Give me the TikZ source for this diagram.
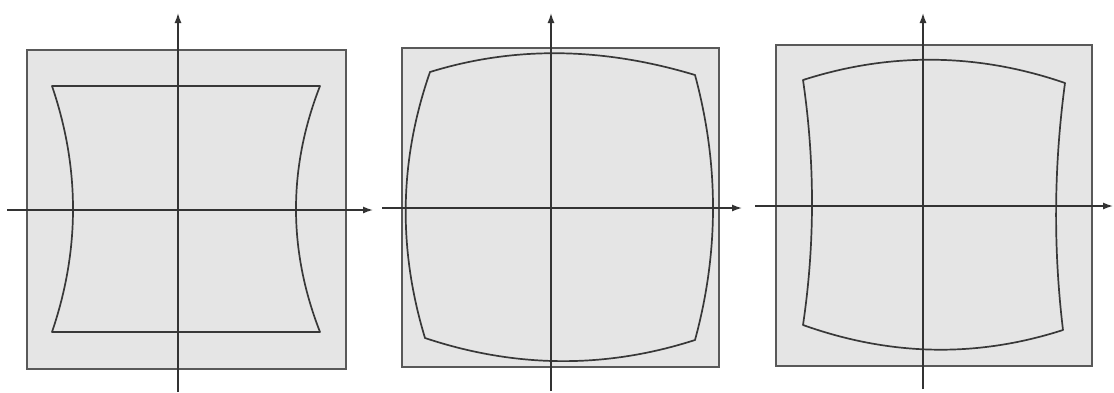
\documentclass[tikz,border=0pt]{standalone}
\usepackage{tikz}
\usetikzlibrary{positioning}
\usetikzlibrary{arrows.meta}

\begin{document}
\begin{tikzpicture}[x=1pt, y=-1pt,
    frame/.style={draw=black!65, line width=1.5pt, fill=black!10},
    axis/.style={draw=black!80, line width=1.4pt, -{Latex[length=10pt,width=7pt]}},
    grid/.style={draw=black!78, line width=1.7pt, line join=round}]
    \useasboundingbox (0,0) rectangle (1114,392);

    % squares
    \draw[frame] (27,50) rectangle (346,369);
    \draw[frame] (402,48) rectangle (719,367);
    \draw[frame] (776,45) rectangle (1092,366);

    % pincushion (sides only)
    \coordinate (a1) at (52,86);   \coordinate (b1) at (320,86);
    \coordinate (c1) at (320,332); \coordinate (d1) at (52,332);
    \draw[grid] (a1) -- (b1) .. controls (288,168) and (288,250) .. (c1)
        -- (d1) .. controls (80,250) and (80,168) .. (a1) -- cycle;

    % barrel
    \coordinate (a2) at (430,72);  \coordinate (b2) at (695,75);
    \coordinate (c2) at (695,340); \coordinate (d2) at (425,338);
    \draw[grid] (a2) .. controls (514,46) and (602,47) .. (b2)
        .. controls (719,164) and (719,252) .. (c2)
        .. controls (605,369) and (515,368) .. (d2)
        .. controls (398,249) and (399,161) .. (a2) -- cycle;

    % mixed
    \coordinate (a3) at (803,80);   \coordinate (b3) at (1065,83);
    \coordinate (c3) at (1063,330); \coordinate (d3) at (803,325);
    \draw[grid] (a3) .. controls (890,52) and (978,53) .. (b3)
        .. controls (1054,165) and (1053,247) .. (c3)
        .. controls (976,358) and (890,356) .. (d3)
        .. controls (815,244) and (815,162) .. (a3) -- cycle;

    % axes
    \coordinate (w1) at (7,210);   \coordinate (e1) at (373,210);
    \coordinate (s1) at (178,392); \coordinate (n1) at (178,13);
    \coordinate (w2) at (382,208); \coordinate (e2) at (742,208);
    \coordinate (s2) at (551,391); \coordinate (n2) at (551,13);
    \coordinate (w3) at (755,206); \coordinate (e3) at (1113,206);
    \coordinate (s3) at (923,389); \coordinate (n3) at (923,13);
    \foreach \i in {1,2,3} {
        \draw[axis] (w\i) -- (e\i);
        \draw[axis] (s\i) -- (n\i);
    }
\end{tikzpicture}
\end{document}
